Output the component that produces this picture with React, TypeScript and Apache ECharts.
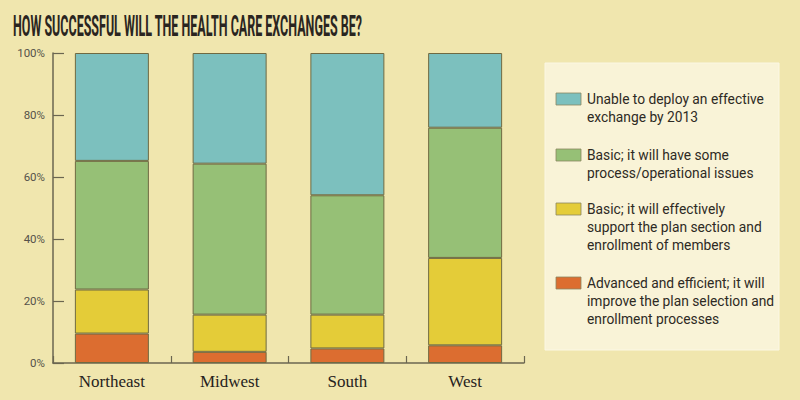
import { useEffect, useRef } from "react";
import * as echarts from "echarts";

const titleText = "HOW SUCCESSFUL WILL THE HEALTH CARE EXCHANGES BE?";
const categories = ["Northeast", "Midwest", "South", "West"];

// stacked bottom -> top
const advancedEfficient = [9.5, 3.6, 4.7, 5.7];
const basicSupport = [14.2, 12.0, 10.9, 28.2];
const basicIssues = [41.5, 48.7, 38.5, 42.0];
const unableToDeploy = [34.8, 35.7, 45.9, 24.1];

const seriesNames = [
  "Advanced and efficient; it will improve the plan selection and enrollment processes",
  "Basic; it will effectively support the plan section and enrollment of members",
  "Basic; it will have some process/operational issues",
  "Unable to deploy an effective exchange by 2013",
];
const seriesColors = ["#dc6d30", "#e4cc38", "#96c076", "#7cc0be"];

// legend, top -> bottom, wrapped lines
const legendLines = [
  ["Unable to deploy an effective", "exchange by 2013"],
  ["Basic; it will have some", "process/operational issues"],
  ["Basic; it will effectively", "support the plan section and", "enrollment of members"],
  ["Advanced and efficient; it will", "improve the plan selection and", "enrollment processes"],
];
const legendColors = ["#7cc0be", "#96c076", "#e4cc38", "#dc6d30"];
const legendFirstLineY = [99, 155, 209, 283];

const SANS = '"Roboto", "Noto Sans", sans-serif';

function measure(text: string, font: string): number {
  try {
    const cv = document.createElement("canvas");
    const ctx = cv.getContext("2d");
    if (ctx) {
      ctx.font = font;
      return ctx.measureText(text).width;
    }
  } catch (e) {}
  return 0;
}

export default function App() {
  const ref = useRef<HTMLDivElement>(null);
  useEffect(() => {
    if (!ref.current) return;
    const chart = echarts.init(ref.current, undefined, { renderer: "svg" });

    const titleFont = `bold 30px ${SANS}`;
    const tw = measure(titleText, titleFont);
    const titleScale = tw > 0 ? 349 / tw : 0.5;

    const legendFont = `15.5px ${SANS}`;
    const lw = measure("Unable to deploy an effective", legendFont);
    const legendScale = lw > 0 ? 177 / lw : 0.85;

    const data = [advancedEfficient, basicSupport, basicIssues, unableToDeploy];

    const graphics: any[] = [
      {
        type: "text",
        x: 13,
        y: 26,
        scaleX: titleScale,
        style: {
          text: titleText,
          font: titleFont,
          fill: "#2a2520",
          align: "left",
          verticalAlign: "middle",
        },
        z: 10,
      },
      {
        type: "rect",
        shape: { x: 545, y: 63, width: 234, height: 287 },
        style: { fill: "#f9f3d7", stroke: "#fbf7e4", lineWidth: 1 },
        z: 0,
      },
    ];
    legendLines.forEach((lines, i) => {
      const cy = legendFirstLineY[i];
      graphics.push({
        type: "rect",
        shape: { x: 556, y: cy - 6, width: 25, height: 12 },
        style: { fill: legendColors[i], stroke: "#8a8560", lineWidth: 0.8 },
        z: 5,
      });
      graphics.push({
        type: "text",
        x: 587,
        y: cy - 9,
        scaleX: legendScale,
        style: {
          text: lines.join("\n"),
          font: legendFont,
          lineHeight: 18,
          fill: "#2e2a24",
          align: "left",
          verticalAlign: "top",
        },
        z: 5,
      });
    });

    chart.setOption({
      animation: false,
      backgroundColor: "#f0e6ae",
      grid: { left: 53, right: 276, top: 53, bottom: 37, containLabel: false },
      xAxis: {
        type: "category",
        data: categories,
        axisLine: { lineStyle: { color: "#6b6650", width: 1.5 } },
        axisTick: { show: true, inside: true, length: 7, alignWithLabel: false, lineStyle: { color: "#6b6650", width: 1.2 } },
        axisLabel: {
          margin: 10,
          fontFamily: '"Liberation Serif", "DejaVu Serif", serif',
          fontSize: 17,
          color: "#262220",
        },
      },
      yAxis: {
        type: "value",
        min: 0,
        max: 100,
        interval: 20,
        axisLine: { show: true, lineStyle: { color: "#6b6650", width: 1.5 } },
        axisTick: { show: true, inside: true, length: 11, lineStyle: { color: "#6b6650", width: 1.2 } },
        splitLine: { show: false },
        axisLabel: {
          margin: 8,
          formatter: "{value}%",
          fontFamily: SANS,
          fontSize: 11.5,
          color: "#55524a",
          padding: [6, 0, 0, 0],
        },
      },
      series: data.map((d, i) => ({
        type: "bar",
        name: seriesNames[i],
        stack: "total",
        data: d,
        barWidth: 74,
        itemStyle: { color: seriesColors[i], borderColor: "#6f6a42", borderWidth: 1 },
      })),
      graphic: graphics,
    });
    return () => chart.dispose();
  }, []);
  return (
    <div
      ref={ref}
      style={{ position: "fixed", left: 0, top: 0, width: 800, height: 400 }}
    />
  );
}
